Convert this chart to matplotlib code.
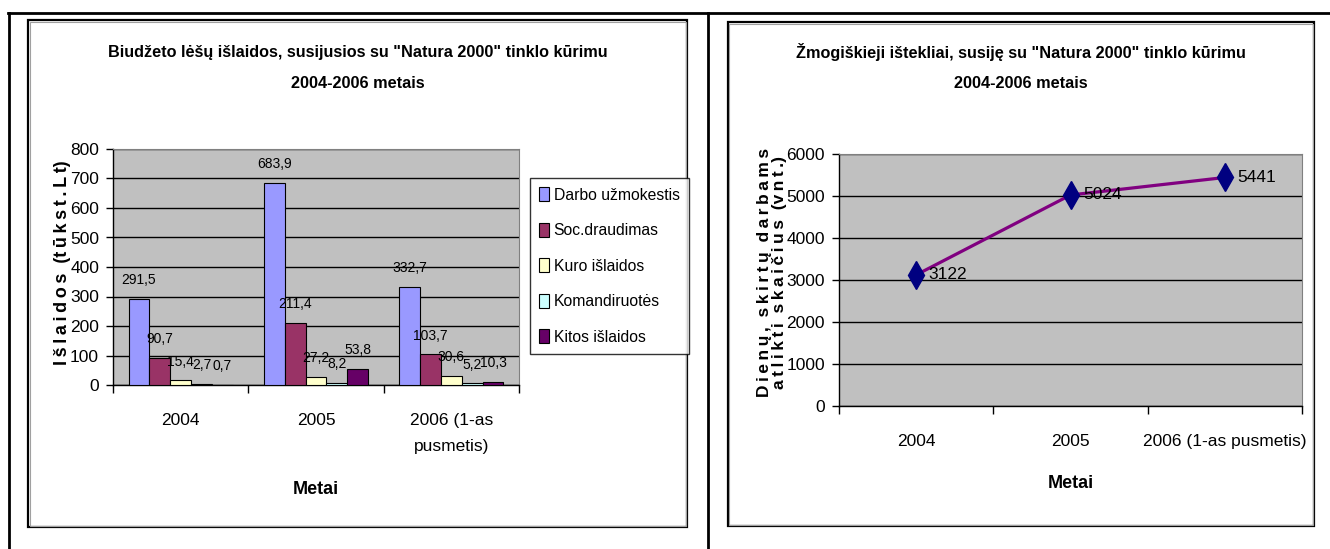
import matplotlib
matplotlib.use("Agg")
import matplotlib.pyplot as plt
from matplotlib.patches import Rectangle
from matplotlib.lines import Line2D
import numpy as np

plt.rcParams['font.family'] = ['Liberation Sans', 'DejaVu Sans']

# ---------------- data ----------------
left_categories = ['2004', '2005', '2006 (1-as\npusmetis)']
series_names = ['Darbo užmokestis', 'Soc.draudimas', 'Kuro išlaidos', 'Komandiruotės', 'Kitos išlaidos']
darbo = [291.5, 683.9, 332.7]
soc = [90.7, 211.4, 103.7]
kuro = [15.4, 27.2, 30.6]
komand = [2.7, 8.2, 5.2]
kitos = [0.7, 53.8, 10.3]
left_yticks = [0, 100, 200, 300, 400, 500, 600, 700, 800]

right_categories = ['2004', '2005', '2006 (1-as pusmetis)']
dienos = [3122, 5024, 5441]
right_yticks = [0, 1000, 2000, 3000, 4000, 5000, 6000]

colors = ['#9999FF', '#993366', '#FFFFCC', '#CCFFFF', '#660066']

W, H = 1330, 549
fig = plt.figure(figsize=(W / 100, H / 100), dpi=100)
fig.patch.set_facecolor('white')


def rect(x0, y0, x1, y1):
    return [x0 / W, 1 - y1 / H, (x1 - x0) / W, (y1 - y0) / H]


def fx(x):
    return x / W


def fy(y):
    return 1 - y / H


def spaced(word):
    return '\u2009'.join(word)


# ---------- page lines and chart frames ----------
lw_page = 2.0
fig.add_artist(Line2D([fx(8), fx(1330)], [fy(13), fy(13)], color='black', lw=lw_page, transform=fig.transFigure))
fig.add_artist(Line2D([fx(9), fx(9)], [fy(13), fy(549)], color='black', lw=lw_page, transform=fig.transFigure))
fig.add_artist(Line2D([fx(708), fx(708)], [fy(13), fy(549)], color='black', lw=lw_page, transform=fig.transFigure))

for (x0, y0, x1, y1) in [(28, 20, 687, 527), (728, 22, 1314, 526)]:
    fig.add_artist(Rectangle((fx(x0), fy(y1)), (x1 - x0) / W, (y1 - y0) / H, fill=False,
                             ec='black', lw=1.6, transform=fig.transFigure))
    fig.add_artist(Rectangle((fx(x0 + 1.5), fy(y1 - 1.5)), (x1 - x0 - 3) / W, (y1 - y0 - 3) / H, fill=False,
                             ec='#A0A0A0', lw=0.8, transform=fig.transFigure))

tick_fs = 12.5
title_fs = 11.7

# ---------------- left chart ----------------
ax1 = fig.add_axes(rect(113, 149, 519, 385))
ax1.set_facecolor('#C0C0C0')
bw = 1 / 6.5
x = np.arange(len(left_categories))
all_series = [darbo, soc, kuro, komand, kitos]
handles = []
for i, (vals, c) in enumerate(zip(all_series, colors)):
    pos = x - 2.5 * bw + (i + 0.5) * bw
    b = ax1.bar(pos, vals, width=bw, color=c, edgecolor='black', linewidth=0.8, zorder=3, label=series_names[i])
    handles.append(b)
    for p, v in zip(pos, vals):
        ax1.annotate(f"{v:.1f}".replace('.', ','), (p, v), xytext=(0, 13.5), textcoords='offset points',
                     ha='center', va='center', fontsize=10, zorder=5)
ax1.set_xlim(-0.5, 2.5)
ax1.set_ylim(0, 800)
ax1.set_yticks(left_yticks)
ax1.set_yticklabels([str(t) for t in left_yticks])
ax1.yaxis.grid(True, color='black', lw=1.0, zorder=1)
ax1.set_axisbelow(True)
ax1.set_xticks([-0.5, 0.5, 1.5, 2.5])
ax1.set_xticklabels([])
ax1.set_xticks(x, minor=True)
ax1.set_xticklabels(left_categories, minor=True, fontsize=tick_fs, linespacing=1.95, va='top')
ax1.tick_params(axis='x', which='minor', length=0, pad=20)
ax1.tick_params(axis='x', which='major', length=6, width=1, direction='out')
ax1.tick_params(axis='y', length=5, width=1, direction='out', pad=5, labelsize=tick_fs)
for s in ['top', 'right']:
    ax1.spines[s].set_color('#808080')
for s in ['left', 'bottom']:
    ax1.spines[s].set_color('black')
    ax1.spines[s].set_linewidth(1.0)

ax1.set_ylabel(spaced('Išlaidos') + '  (' + spaced('tūkst.Lt') + ')', fontsize=13, fontweight='bold')
ax1.yaxis.set_label_coords(-42 / 406, 0.52)

fig.text(fx(358), fy(52), 'Biudžeto lėšų išlaidos, susijusios su "Natura 2000" tinklo kūrimu',
         ha='center', va='center', fontsize=title_fs, fontweight='bold')
fig.text(fx(358), fy(84), '2004-2006 metais', ha='center', va='center', fontsize=title_fs, fontweight='bold')
fig.text(fx(316), fy(490), 'Metai', ha='center', va='center', fontsize=13, fontweight='bold')

leg = fig.legend(handles=handles, labels=series_names, loc='upper left',
                 bbox_to_anchor=(fx(530), fy(178)), bbox_transform=fig.transFigure,
                 fontsize=11.3, frameon=True, fancybox=False, edgecolor='black',
                 handlelength=0.6, handleheight=1.0, handletextpad=0.3, labelspacing=1.28,
                 borderpad=0.6, borderaxespad=0)
leg.get_frame().set_linewidth(1.0)

# ---------------- right chart ----------------
ax2 = fig.add_axes(rect(839, 154, 1302, 406))
ax2.set_facecolor('#C0C0C0')
xr = np.arange(len(right_categories))
ax2.plot(xr, dienos, color='#800080', lw=2.3, zorder=3)
ax2.plot(xr, dienos, linestyle='none', marker='d', markersize=14, markerfacecolor='#000080',
         markeredgecolor='#000080', zorder=4)
for xi, v in zip(xr, dienos):
    ax2.annotate(str(v), (xi, v), xytext=(9, 0), textcoords='offset points', ha='left', va='center',
                 fontsize=12.5, zorder=5)
ax2.set_xlim(-0.5, 2.5)
ax2.set_ylim(0, 6000)
ax2.set_yticks(right_yticks)
ax2.set_yticklabels([str(t) for t in right_yticks])
ax2.yaxis.grid(True, color='black', lw=1.0, zorder=1)
ax2.set_axisbelow(True)
ax2.set_xticks([-0.5, 0.5, 1.5, 2.5])
ax2.set_xticklabels([])
ax2.set_xticks(xr, minor=True)
ax2.set_xticklabels(right_categories, minor=True, fontsize=tick_fs, va='top')
ax2.tick_params(axis='x', which='minor', length=0, pad=20)
ax2.tick_params(axis='x', which='major', length=6, width=1, direction='out')
ax2.tick_params(axis='y', length=5, width=1, direction='out', pad=5, labelsize=tick_fs)
for s in ['top', 'right']:
    ax2.spines[s].set_color('#808080')
for s in ['left', 'bottom']:
    ax2.spines[s].set_color('black')
    ax2.spines[s].set_linewidth(1.0)

ylab2 = (spaced('Dienų,') + '  ' + spaced('skirtų') + '  ' + spaced('darbams') + '\n' +
         spaced('atlikti') + '  ' + spaced('skaičius') + '  (' + spaced('vnt.') + ')')
ax2.set_ylabel(ylab2, fontsize=12.5, fontweight='bold', linespacing=1.0)
ax2.yaxis.set_label_coords(-52 / 463, 0.53)

fig.text(fx(1021), fy(52), 'Žmogiškieji ištekliai, susiję su "Natura 2000" tinklo kūrimu',
         ha='center', va='center', fontsize=title_fs, fontweight='bold')
fig.text(fx(1021), fy(84), '2004-2006 metais', ha='center', va='center', fontsize=title_fs, fontweight='bold')
fig.text(fx(1071), fy(483), 'Metai', ha='center', va='center', fontsize=13, fontweight='bold')

fig.savefig('out.png', dpi=100)
